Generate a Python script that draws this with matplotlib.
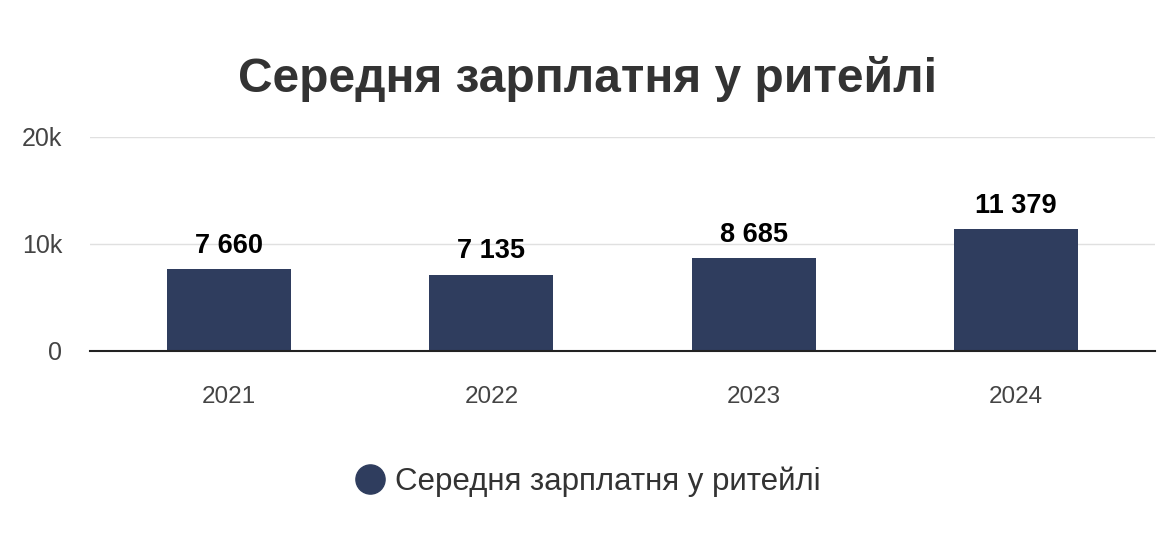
import matplotlib
matplotlib.use("Agg")
import matplotlib.pyplot as plt
from matplotlib.lines import Line2D
from matplotlib.ticker import FuncFormatter

years = ["2021", "2022", "2023", "2024"]
salaries = [7660, 7135, 8685, 11379]
labels = ["7 660", "7 135", "8 685", "11 379"]
title = "Середня зарплатня у ритейлі"
series_name = "Середня зарплатня у ритейлі"
yticks = [0, 10000, 20000]

bar_color = "#2f3d5e"
plt.rcParams['font.family'] = ['Liberation Sans', 'DejaVu Sans']

fig = plt.figure(figsize=(11.65, 5.53), dpi=100)
ax = fig.add_axes([90/1165, 1-351/553, 1065/1165, (351-137)/553])

x = list(range(len(years)))
ax.bar(x, salaries, width=0.473, color=bar_color, zorder=3)
for xi, v, lab in zip(x, salaries, labels):
    ax.annotate(lab, (xi, v), xytext=(0, 7.5), textcoords="offset points",
                ha="center", va="bottom", fontsize=19.5, fontweight="bold", color="#000000")

ax.set_xlim(1.5 - 2.03, 1.5 + 2.03)
ax.set_ylim(0, 20000)
ax.set_yticks(yticks)
ax.yaxis.set_major_formatter(FuncFormatter(lambda v, p: "0" if v == 0 else f"{int(v/1000)}k"))
ax.set_xticks(x)
ax.set_xticklabels(years)
ax.tick_params(axis="y", length=0, labelsize=18, labelcolor="#444444", pad=20)
ax.tick_params(axis="x", length=0, labelsize=17.5, labelcolor="#444444", pad=25)
ax.grid(axis="y", color="#e0e0e0", linewidth=1, zorder=0)
for s in ["top", "right", "left"]:
    ax.spines[s].set_visible(False)
ax.spines["bottom"].set_color("#222222")
ax.spines["bottom"].set_linewidth(1.5)
ax.spines["bottom"].set_zorder(4)

fig.text(588/1165, 1-79/553, title, ha="center", va="center",
         fontsize=34.5, fontweight="bold", color="#333333")

handle = Line2D([], [], marker="o", linestyle="none", markersize=21,
                markerfacecolor=bar_color, markeredgecolor=bar_color)
fig.legend([handle], [series_name], loc="center", bbox_to_anchor=(587/1165, 1-482/553),
           frameon=False, fontsize=22.5, labelcolor="#333333", handletextpad=0.25,
           handlelength=1.1)

fig.savefig("out.png", dpi=100, facecolor="white")
